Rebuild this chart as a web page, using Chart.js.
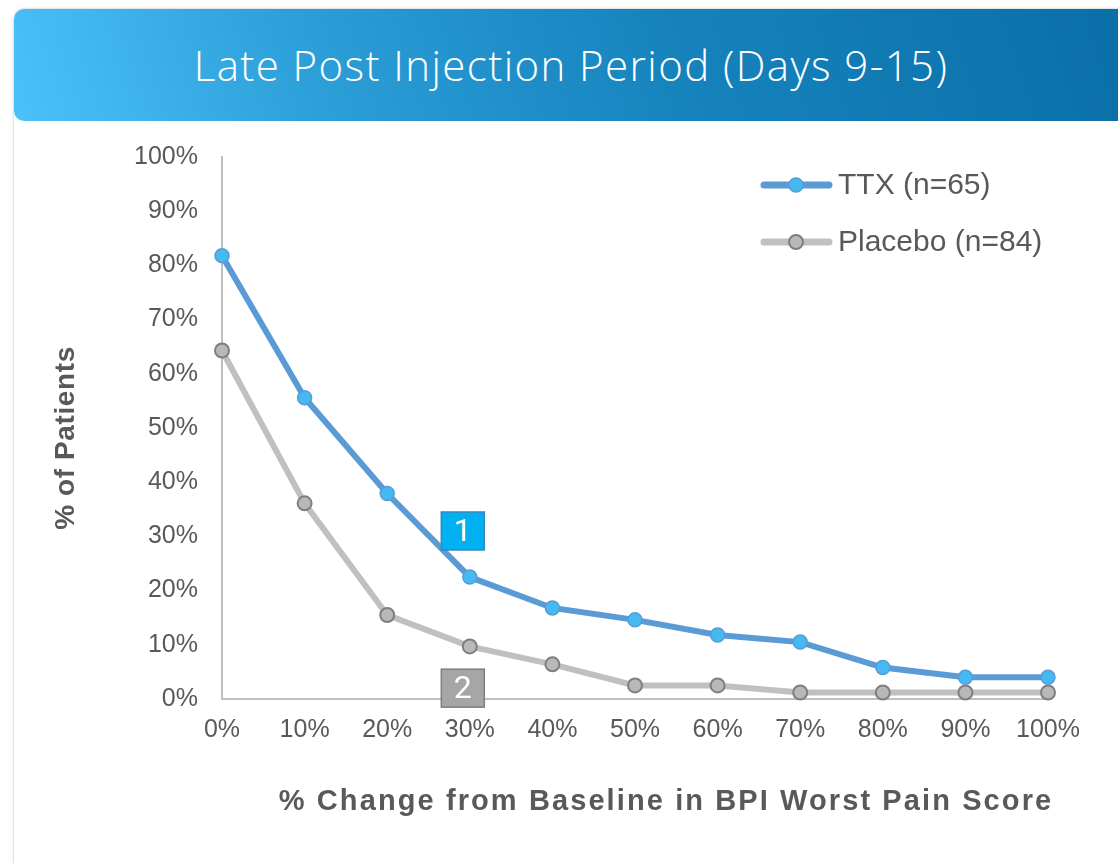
<!DOCTYPE html>
<html>
<head>
<meta charset="utf-8">
<script src="https://cdn.jsdelivr.net/npm/chart.js@4.4.1/dist/chart.umd.min.js"></script>
<style>
  html, body { margin: 0; padding: 0; background: #fff; }
  body { width: 1118px; height: 863px; position: relative; overflow: hidden; }
  .card {
    position: absolute; left: 14px; top: 9px; width: 1130px; height: 880px;
    background: #fff; border-radius: 10px;
    box-shadow: 0 0 3px rgba(0,0,0,0.28);
  }
  .header {
    position: absolute; left: 14px; top: 9px; width: 1130px; height: 112px;
    border-radius: 10px;
    background: linear-gradient(72deg, #4cc1f9 0%, #2b9dd7 28%, #1683bd 58%, #0a6ea7 100%);
    color: #fff;
    font-family: "Open Sans", "Lato", sans-serif; font-weight: 300; font-size: 42px;
    letter-spacing: 1.4px;
    line-height: 112px; text-align: center; box-sizing: border-box; padding-right: 16px;
  }
  #chart { position: absolute; left: 0; top: 0; }
</style>
</head>
<body>
<div class="card"></div>
<div class="header">Late Post Injection Period (Days 9-15)</div>
<canvas id="chart" width="1118" height="863"></canvas>
<script>
const xLabels = ['0%', '10%', '20%', '30%', '40%', '50%', '60%', '70%', '80%', '90%', '100%'];
const ttxValues = [81.8, 55.6, 37.9, 22.5, 16.8, 14.6, 11.8, 10.5, 5.8, 4.0, 4.0];
const placeboValues = [64.3, 36.1, 15.5, 9.7, 6.4, 2.5, 2.5, 1.2, 1.2, 1.2, 1.2];
const seriesNames = ['TTX (n=65)', 'Placebo (n=84)'];
const yTitle = '% of Patients';
const xTitle = '% Change from Baseline in BPI Worst Pain Score';
const noteLabels = ['1', '2'];
const noteX = [3, 3];
const noteY = [31, 2];

const textGrey = '#595959';
const axisGrey = '#bfbfbf';

const extras = {
  id: 'extras',
  afterDatasetsDraw(chart) {
    const { ctx, scales: { x, y } } = chart;
    ctx.save();
    // numbered boxes
    const fills = ['#00b0f0', '#a6a6a6'];
    const edges = ['#3a86c0', '#7f7f7f'];
    noteLabels.forEach((t, i) => {
      const cx = x.getPixelForValue(noteX[i]) - 7;
      const cy = y.getPixelForValue(noteY[i]);
      ctx.fillStyle = fills[i];
      ctx.strokeStyle = edges[i];
      ctx.lineWidth = 1.5;
      ctx.fillRect(cx - 21.5, cy - 19, 43, 38);
      ctx.strokeRect(cx - 21.5, cy - 19, 43, 38);
      ctx.fillStyle = '#fff';
      ctx.font = '32px Roboto, "Liberation Sans", sans-serif';
      ctx.textAlign = 'center';
      ctx.textBaseline = 'middle';
      ctx.fillText(t, cx, cy + 2);
    });

    // legend
    chart.data.datasets.forEach((ds, i) => {
      const ly = 185 + i * 57;
      ctx.strokeStyle = ds.borderColor;
      ctx.lineWidth = 7;
      ctx.lineCap = 'round';
      ctx.beginPath();
      ctx.moveTo(764, ly);
      ctx.lineTo(829, ly);
      ctx.stroke();
      ctx.beginPath();
      ctx.arc(796, ly, 7, 0, Math.PI * 2);
      ctx.fillStyle = ds.pointBackgroundColor;
      ctx.fill();
      ctx.lineWidth = ds.pointBorderWidth;
      ctx.strokeStyle = ds.pointBorderColor;
      ctx.stroke();
      ctx.fillStyle = textGrey;
      ctx.font = '30px "Liberation Sans", Arial, sans-serif';
      ctx.textAlign = 'left';
      ctx.textBaseline = 'middle';
      ctx.fillText(ds.label, 838, ly + 1);
    });

    // axis titles
    ctx.fillStyle = textGrey;
    ctx.font = 'bold 29px "Liberation Sans", Arial, sans-serif';
    ctx.textBaseline = 'middle';
    ctx.textAlign = 'center';
    ctx.letterSpacing = '2.1px';
    ctx.fillText(xTitle, 666, 802);
    ctx.font = 'bold 28px "Liberation Sans", Arial, sans-serif';
    ctx.letterSpacing = '0.6px';
    ctx.translate(66, 438);
    ctx.rotate(-Math.PI / 2);
    ctx.fillText(yTitle, 0, 0);
    ctx.restore();
  }
};

new Chart(document.getElementById('chart'), {
  type: 'line',
  data: {
    labels: xLabels,
    datasets: [{
      label: seriesNames[0],
      data: ttxValues,
      borderColor: '#5b9bd5',
      borderWidth: 6,
      pointRadius: 7,
      pointBackgroundColor: '#45baf2',
      pointBorderColor: '#5b9bd5',
      pointBorderWidth: 1.5,
      tension: 0,
      clip: false
    }, {
      label: seriesNames[1],
      data: placeboValues,
      borderColor: '#c0c0c0',
      borderWidth: 6,
      pointRadius: 7,
      pointBackgroundColor: '#b8b8b8',
      pointBorderColor: '#7f7f7f',
      pointBorderWidth: 2,
      tension: 0,
      clip: false
    }]
  },
  options: {
    responsive: false,
    animation: false,
    layout: { padding: { top: 157, right: 70, left: 0, bottom: 0 } },
    plugins: { legend: { display: false }, tooltip: { enabled: false } },
    scales: {
      x: {
        grid: { display: false, drawTicks: false },
        border: { display: true, color: axisGrey, width: 2 },
        ticks: {
          color: textGrey, padding: 16, maxRotation: 0,
          font: { family: '"Liberation Sans", Arial, sans-serif', size: 25 }
        },
        afterFit(scale) { scale.height = 164; }
      },
      y: {
        min: 0, max: 100,
        grid: { display: false, drawTicks: false },
        border: { display: true, color: axisGrey, width: 2 },
        ticks: {
          stepSize: 10, color: textGrey, padding: 24,
          font: { family: '"Liberation Sans", Arial, sans-serif', size: 25 },
          callback: v => v + '%'
        },
        afterFit(scale) { scale.width = 222; }
      }
    }
  },
  plugins: [extras]
});
</script>
</body>
</html>
